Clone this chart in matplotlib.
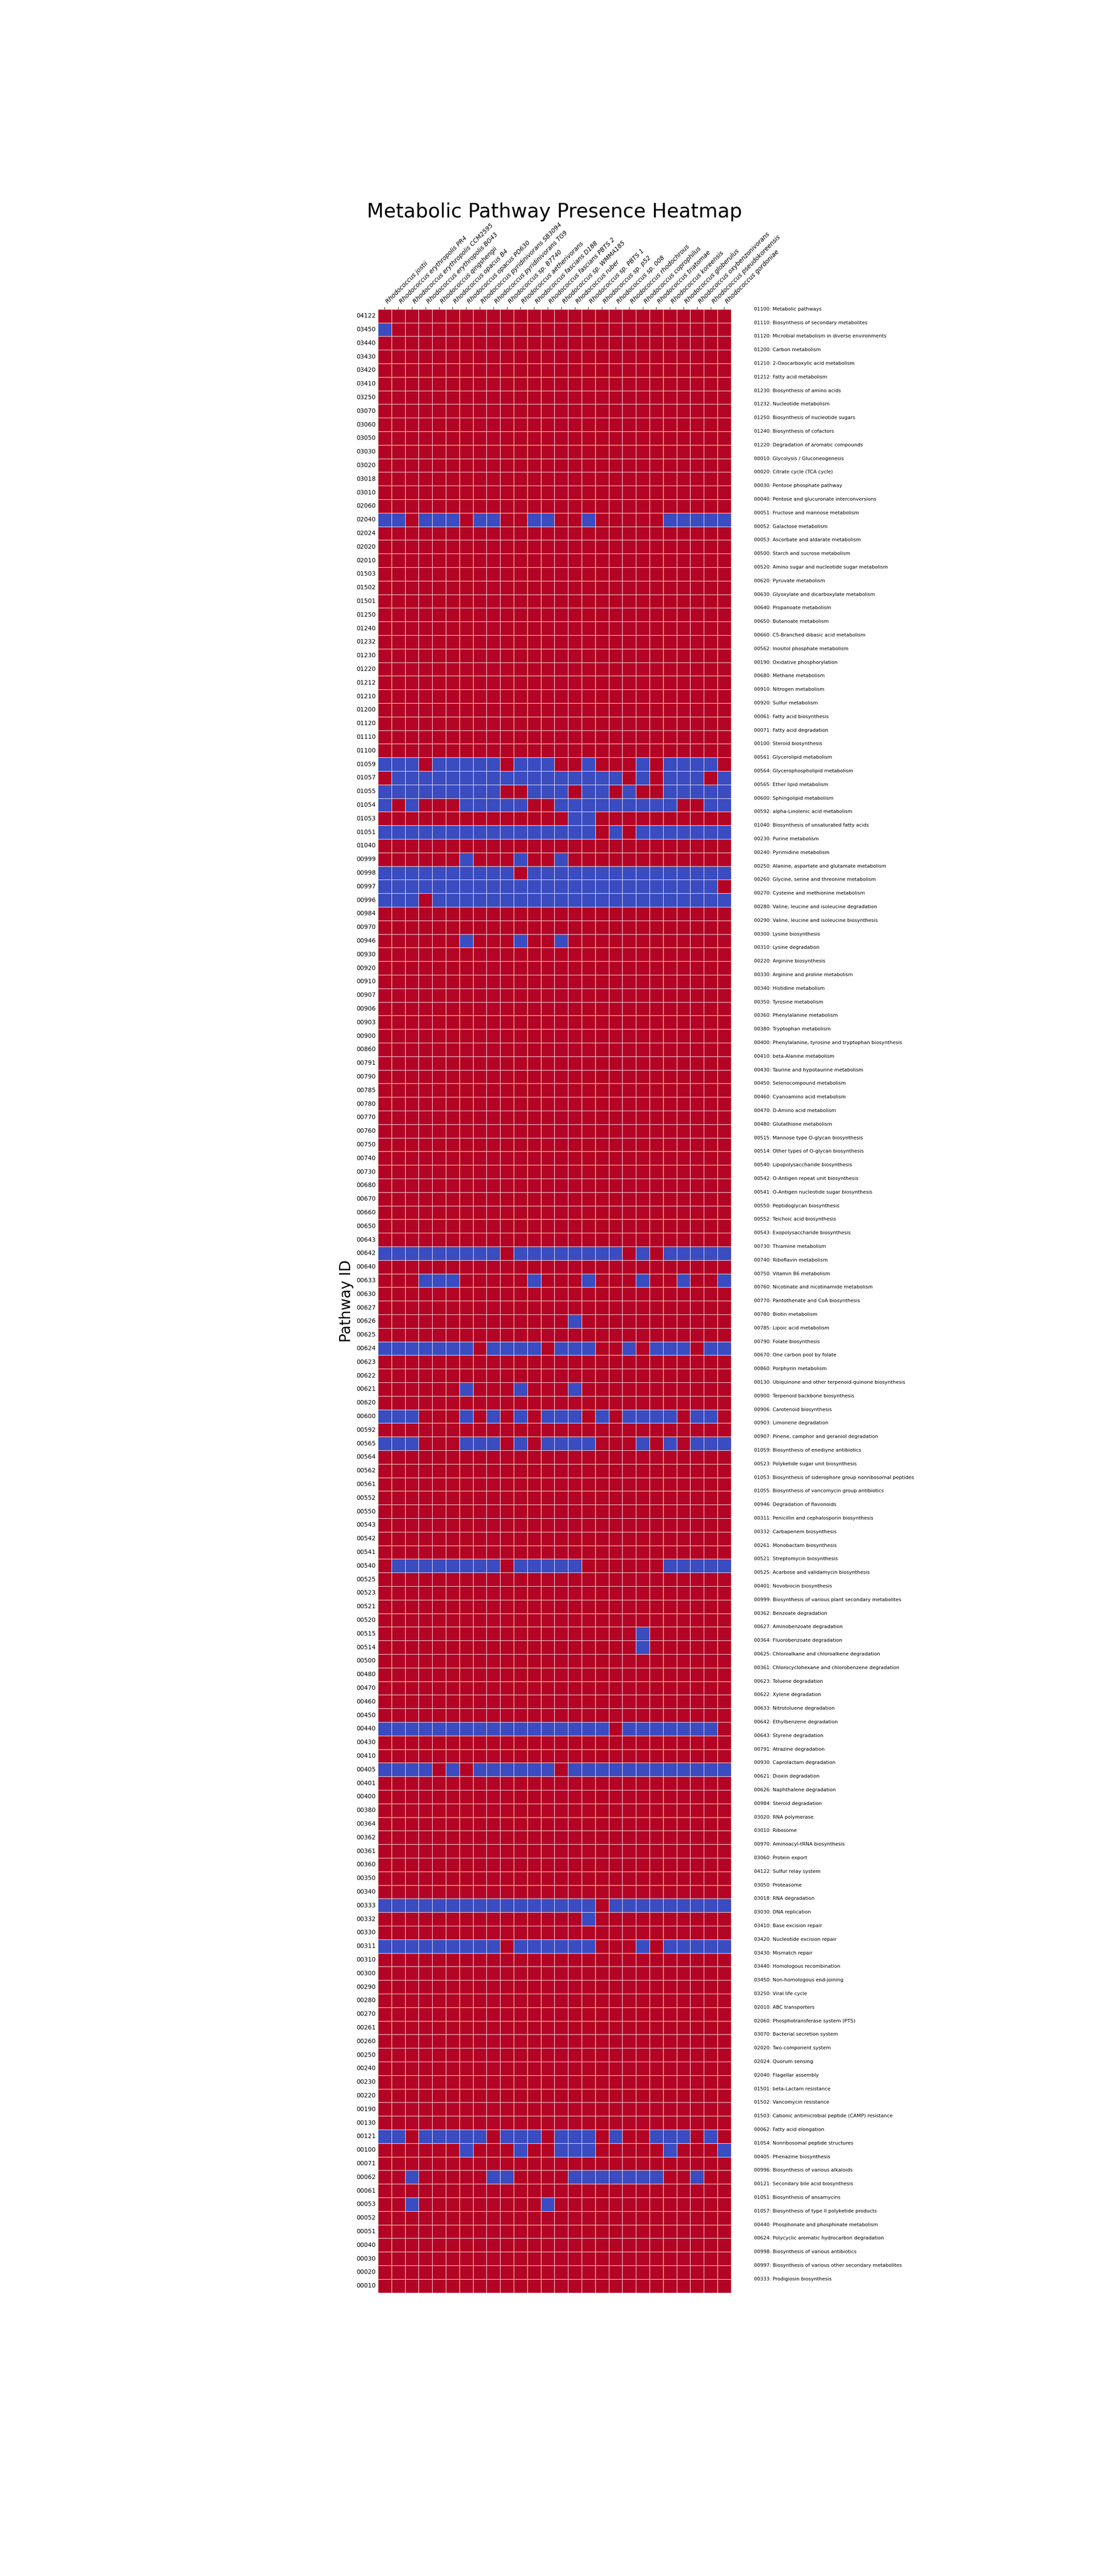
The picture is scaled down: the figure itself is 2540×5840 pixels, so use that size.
import matplotlib
matplotlib.use('Agg')
import matplotlib.pyplot as plt
import numpy as np
import pandas as pd
import seaborn as sns

# Organisms (columns)
organisms = [
    'Rhodococcus jostii', 'Rhodococcus erythropolis PR4',
    'Rhodococcus erythropolis CCM2595', 'Rhodococcus erythropolis BG43',
    'Rhodococcus qingshengii', 'Rhodococcus opacus B4',
    'Rhodococcus opacus PD630', 'Rhodococcus pyridinivorans SB3094',
    'Rhodococcus pyridinivorans TG9', 'Rhodococcus sp. B7740',
    'Rhodococcus aetherivorans', 'Rhodococcus fascians D188',
    'Rhodococcus fascians PBTS 2', 'Rhodococcus sp. WMMA185',
    'Rhodococcus ruber', 'Rhodococcus sp. PBTS 1', 'Rhodococcus sp. p52',
    'Rhodococcus sp. 008', 'Rhodococcus rhodochrous',
    'Rhodococcus coprophilus', 'Rhodococcus triatomae',
    'Rhodococcus koreensis', 'Rhodococcus globerulus',
    'Rhodococcus oxybenzonivorans', 'Rhodococcus pseudokoreensis',
    'Rhodococcus gordoniae']

# Pathway IDs (rows, top to bottom)
pathway_ids = [
    '04122', '03450', '03440', '03430', '03420', '03410', '03250', '03070',
    '03060', '03050', '03030', '03020', '03018', '03010', '02060', '02040',
    '02024', '02020', '02010', '01503', '01502', '01501', '01250', '01240',
    '01232', '01230', '01220', '01212', '01210', '01200', '01120', '01110',
    '01100', '01059', '01057', '01055', '01054', '01053', '01051', '01040',
    '00999', '00998', '00997', '00996', '00984', '00970', '00946', '00930',
    '00920', '00910', '00907', '00906', '00903', '00900', '00860', '00791',
    '00790', '00785', '00780', '00770', '00760', '00750', '00740', '00730',
    '00680', '00670', '00660', '00650', '00643', '00642', '00640', '00633',
    '00630', '00627', '00626', '00625', '00624', '00623', '00622', '00621',
    '00620', '00600', '00592', '00565', '00564', '00562', '00561', '00552',
    '00550', '00543', '00542', '00541', '00540', '00525', '00523', '00521',
    '00520', '00515', '00514', '00500', '00480', '00470', '00460', '00450',
    '00440', '00430', '00410', '00405', '00401', '00400', '00380', '00364',
    '00362', '00361', '00360', '00350', '00340', '00333', '00332', '00330',
    '00311', '00310', '00300', '00290', '00280', '00270', '00261', '00260',
    '00250', '00240', '00230', '00220', '00190', '00130', '00121', '00100',
    '00071', '00062', '00061', '00053', '00052', '00051', '00040', '00030',
    '00020', '00010']

# Presence (1) / absence (0), one string per pathway, one char per organism
presence = [
    '11111111111111111111111111',  # 04122
    '01111111111111111111111111',  # 03450
    '11111111111111111111111111',  # 03440
    '11111111111111111111111111',  # 03430
    '11111111111111111111111111',  # 03420
    '11111111111111111111111111',  # 03410
    '11111111111111111111111111',  # 03250
    '11111111111111111111111111',  # 03070
    '11111111111111111111111111',  # 03060
    '11111111111111111111111111',  # 03050
    '11111111111111111111111111',  # 03030
    '11111111111111111111111111',  # 03020
    '11111111111111111111111111',  # 03018
    '11111111111111111111111111',  # 03010
    '11111111111111111111111111',  # 02060
    '00100010011001101111100000',  # 02040
    '11111111111111111111111111',  # 02024
    '11111111111111111111111111',  # 02020
    '11111111111111111111111111',  # 02010
    '11111111111111111111111111',  # 01503
    '11111111111111111111111111',  # 01502
    '11111111111111111111111111',  # 01501
    '11111111111111111111111111',  # 01250
    '11111111111111111111111111',  # 01240
    '11111111111111111111111111',  # 01232
    '11111111111111111111111111',  # 01230
    '11111111111111111111111111',  # 01220
    '11111111111111111111111111',  # 01212
    '11111111111111111111111111',  # 01210
    '11111111111111111111111111',  # 01200
    '11111111111111111111111111',  # 01120
    '11111111111111111111111111',  # 01110
    '11111111111111111111111111',  # 01100
    '00010000010001101110100001',  # 01059
    '10000000000000000010100010',  # 01057
    '00000000011000100101100000',  # 01055
    '01011100000110000000001100',  # 01054
    '11111111111111001111111111',  # 01053
    '00000000000000001010000000',  # 01051
    '11111111111111111111111111',  # 01040
    '11111101110110111111111111',  # 00999
    '00000000001000000000000000',  # 00998
    '00000000000000000000000001',  # 00997
    '00010000000000000000000000',  # 00996
    '11111111111111111111111111',  # 00984
    '11111111111111111111111111',  # 00970
    '11111101110110111111111111',  # 00946
    '11111111111111111111111111',  # 00930
    '11111111111111111111111111',  # 00920
    '11111111111111111111111111',  # 00910
    '11111111111111111111111111',  # 00907
    '11111111111111111111111111',  # 00906
    '11111111111111111111111111',  # 00903
    '11111111111111111111111111',  # 00900
    '11111111111111111111111111',  # 00860
    '11111111111111111111111111',  # 00791
    '11111111111111111111111111',  # 00790
    '11111111111111111111111111',  # 00785
    '11111111111111111111111111',  # 00780
    '11111111111111111111111111',  # 00770
    '11111111111111111111111111',  # 00760
    '11111111111111111111111111',  # 00750
    '11111111111111111111111111',  # 00740
    '11111111111111111111111111',  # 00730
    '11111111111111111111111111',  # 00680
    '11111111111111111111111111',  # 00670
    '11111111111111111111111111',  # 00660
    '11111111111111111111111111',  # 00650
    '11111111111111111111111111',  # 00643
    '00000000010000000010100000',  # 00642
    '11111111111111111111111111',  # 00640
    '11100011111011101110110110',  # 00633
    '11111111111111111111111111',  # 00630
    '11111111111111111111111111',  # 00627
    '11111111111111011111111111',  # 00626
    '11111111111111111111111111',  # 00625
    '00000001000010001101000100',  # 00624
    '11111111111111111111111111',  # 00623
    '11111111111111111111111111',  # 00622
    '11111101110111011111111111',  # 00621
    '11111111111111111111111111',  # 00620
    '00011101010100010100001001',  # 00600
    '11111111111111111111111111',  # 00592
    '00011100010100001110101000',  # 00565
    '11111111111111111111111111',  # 00564
    '11111111111111111111111111',  # 00562
    '11111111111111111111111111',  # 00561
    '11111111111111111111111111',  # 00552
    '11111111111111111111111111',  # 00550
    '11111111111111111111111111',  # 00543
    '11111111111111111111111111',  # 00542
    '11111111111111111111111111',  # 00541
    '10000000010000011111100000',  # 00540
    '11111111111111111111111111',  # 00525
    '11111111111111111111111111',  # 00523
    '11111111111111111111111111',  # 00521
    '11111111111111111111111111',  # 00520
    '11111111111111111110111111',  # 00515
    '11111111111111111110111111',  # 00514
    '11111111111111111111111111',  # 00500
    '11111111111111111111111111',  # 00480
    '11111111111111111111111111',  # 00470
    '11111111111111111111111111',  # 00460
    '11111111111111111111111111',  # 00450
    '00000000000000000100000001',  # 00440
    '11111111111111111111111111',  # 00430
    '11111111111111111111111111',  # 00410
    '00001010000001000000000000',  # 00405
    '11111111111111111111111111',  # 00401
    '11111111111111111111111111',  # 00400
    '11111111111111111111111111',  # 00380
    '11111111111111111111111111',  # 00364
    '11111111111111111111111111',  # 00362
    '11111111111111111111111111',  # 00361
    '11111111111111111111111111',  # 00360
    '11111111111111111111111111',  # 00350
    '11111111111111111111111111',  # 00340
    '00000000000000001000000000',  # 00333
    '11111111111111101111111111',  # 00332
    '11111111111111111111111111',  # 00330
    '00000000010000001110100000',  # 00311
    '11111111111111111111111111',  # 00310
    '11111111111111111111111111',  # 00300
    '11111111111111111111111111',  # 00290
    '11111111111111111111111111',  # 00280
    '11111111111111111111111111',  # 00270
    '11111111111111111111111111',  # 00261
    '11111111111111111111111111',  # 00260
    '11111111111111111111111111',  # 00250
    '11111111111111111111111111',  # 00240
    '11111111111111111111111111',  # 00230
    '11111111111111111111111111',  # 00220
    '11111111111111111111111111',  # 00190
    '11111111111111111111111111',  # 00130
    '00100000100010001011000101',  # 00121
    '11111101110110001111101110',  # 00100
    '11111111111111111111111111',  # 00071
    '11011111001111000000011011',  # 00062
    '11111111111111111111111111',  # 00061
    '11011111111101111111111111',  # 00053
    '11111111111111111111111111',  # 00052
    '11111111111111111111111111',  # 00051
    '11111111111111111111111111',  # 00040
    '11111111111111111111111111',  # 00030
    '11111111111111111111111111',  # 00020
    '11111111111111111111111111',  # 00010
]

# Pathway descriptions listed to the right of the heatmap
pathway_names = [
    '01100: Metabolic pathways',
    '01110: Biosynthesis of secondary metabolites',
    '01120: Microbial metabolism in diverse environments',
    '01200: Carbon metabolism',
    '01210: 2-Oxocarboxylic acid metabolism',
    '01212: Fatty acid metabolism',
    '01230: Biosynthesis of amino acids',
    '01232: Nucleotide metabolism',
    '01250: Biosynthesis of nucleotide sugars',
    '01240: Biosynthesis of cofactors',
    '01220: Degradation of aromatic compounds',
    '00010: Glycolysis / Gluconeogenesis',
    '00020: Citrate cycle (TCA cycle)',
    '00030: Pentose phosphate pathway',
    '00040: Pentose and glucuronate interconversions',
    '00051: Fructose and mannose metabolism',
    '00052: Galactose metabolism',
    '00053: Ascorbate and aldarate metabolism',
    '00500: Starch and sucrose metabolism',
    '00520: Amino sugar and nucleotide sugar metabolism',
    '00620: Pyruvate metabolism',
    '00630: Glyoxylate and dicarboxylate metabolism',
    '00640: Propanoate metabolism',
    '00650: Butanoate metabolism',
    '00660: C5-Branched dibasic acid metabolism',
    '00562: Inositol phosphate metabolism',
    '00190: Oxidative phosphorylation',
    '00680: Methane metabolism',
    '00910: Nitrogen metabolism',
    '00920: Sulfur metabolism',
    '00061: Fatty acid biosynthesis',
    '00071: Fatty acid degradation',
    '00100: Steroid biosynthesis',
    '00561: Glycerolipid metabolism',
    '00564: Glycerophospholipid metabolism',
    '00565: Ether lipid metabolism',
    '00600: Sphingolipid metabolism',
    '00592: alpha-Linolenic acid metabolism',
    '01040: Biosynthesis of unsaturated fatty acids',
    '00230: Purine metabolism',
    '00240: Pyrimidine metabolism',
    '00250: Alanine, aspartate and glutamate metabolism',
    '00260: Glycine, serine and threonine metabolism',
    '00270: Cysteine and methionine metabolism',
    '00280: Valine, leucine and isoleucine degradation',
    '00290: Valine, leucine and isoleucine biosynthesis',
    '00300: Lysine biosynthesis',
    '00310: Lysine degradation',
    '00220: Arginine biosynthesis',
    '00330: Arginine and proline metabolism',
    '00340: Histidine metabolism',
    '00350: Tyrosine metabolism',
    '00360: Phenylalanine metabolism',
    '00380: Tryptophan metabolism',
    '00400: Phenylalanine, tyrosine and tryptophan biosynthesis',
    '00410: beta-Alanine metabolism',
    '00430: Taurine and hypotaurine metabolism',
    '00450: Selenocompound metabolism',
    '00460: Cyanoamino acid metabolism',
    '00470: D-Amino acid metabolism',
    '00480: Glutathione metabolism',
    '00515: Mannose type O-glycan biosynthesis',
    '00514: Other types of O-glycan biosynthesis',
    '00540: Lipopolysaccharide biosynthesis',
    '00542: O-Antigen repeat unit biosynthesis',
    '00541: O-Antigen nucleotide sugar biosynthesis',
    '00550: Peptidoglycan biosynthesis',
    '00552: Teichoic acid biosynthesis',
    '00543: Exopolysaccharide biosynthesis',
    '00730: Thiamine metabolism',
    '00740: Riboflavin metabolism',
    '00750: Vitamin B6 metabolism',
    '00760: Nicotinate and nicotinamide metabolism',
    '00770: Pantothenate and CoA biosynthesis',
    '00780: Biotin metabolism',
    '00785: Lipoic acid metabolism',
    '00790: Folate biosynthesis',
    '00670: One carbon pool by folate',
    '00860: Porphyrin metabolism',
    '00130: Ubiquinone and other terpenoid-quinone biosynthesis',
    '00900: Terpenoid backbone biosynthesis',
    '00906: Carotenoid biosynthesis',
    '00903: Limonene degradation',
    '00907: Pinene, camphor and geraniol degradation',
    '01059: Biosynthesis of enediyne antibiotics',
    '00523: Polyketide sugar unit biosynthesis',
    '01053: Biosynthesis of siderophore group nonribosomal peptides',
    '01055: Biosynthesis of vancomycin group antibiotics',
    '00946: Degradation of flavonoids',
    '00311: Penicillin and cephalosporin biosynthesis',
    '00332: Carbapenem biosynthesis',
    '00261: Monobactam biosynthesis',
    '00521: Streptomycin biosynthesis',
    '00525: Acarbose and validamycin biosynthesis',
    '00401: Novobiocin biosynthesis',
    '00999: Biosynthesis of various plant secondary metabolites',
    '00362: Benzoate degradation',
    '00627: Aminobenzoate degradation',
    '00364: Fluorobenzoate degradation',
    '00625: Chloroalkane and chloroalkene degradation',
    '00361: Chlorocyclohexane and chlorobenzene degradation',
    '00623: Toluene degradation',
    '00622: Xylene degradation',
    '00633: Nitrotoluene degradation',
    '00642: Ethylbenzene degradation',
    '00643: Styrene degradation',
    '00791: Atrazine degradation',
    '00930: Caprolactam degradation',
    '00621: Dioxin degradation',
    '00626: Naphthalene degradation',
    '00984: Steroid degradation',
    '03020: RNA polymerase',
    '03010: Ribosome',
    '00970: Aminoacyl-tRNA biosynthesis',
    '03060: Protein export',
    '04122: Sulfur relay system',
    '03050: Proteasome',
    '03018: RNA degradation',
    '03030: DNA replication',
    '03410: Base excision repair',
    '03420: Nucleotide excision repair',
    '03430: Mismatch repair',
    '03440: Homologous recombination',
    '03450: Non-homologous end-joining',
    '03250: Viral life cycle',
    '02010: ABC transporters',
    '02060: Phosphotransferase system (PTS)',
    '03070: Bacterial secretion system',
    '02020: Two-component system',
    '02024: Quorum sensing',
    '02040: Flagellar assembly',
    '01501: beta-Lactam resistance',
    '01502: Vancomycin resistance',
    '01503: Cationic antimicrobial peptide (CAMP) resistance',
    '00062: Fatty acid elongation',
    '01054: Nonribosomal peptide structures',
    '00405: Phenazine biosynthesis',
    '00996: Biosynthesis of various alkaloids',
    '00121: Secondary bile acid biosynthesis',
    '01051: Biosynthesis of ansamycins',
    '01057: Biosynthesis of type II polyketide products',
    '00440: Phosphonate and phosphinate metabolism',
    '00624: Polycyclic aromatic hydrocarbon degradation',
    '00998: Biosynthesis of various antibiotics',
    '00997: Biosynthesis of various other secondary metabolites',
    '00333: Prodigiosin biosynthesis',
]

# Build the presence table
mat = np.array([[int(c) for c in row] for row in presence])
df = pd.DataFrame(mat, index=pathway_ids, columns=organisms)

fig = plt.figure(figsize=(25.4, 58.4), dpi=100)
ax = fig.add_axes([0.3374, 0.11, 0.3153, 0.77])

sns.heatmap(df, cmap='coolwarm', cbar=False, linewidths=0.5,
            linecolor='white', square=True, ax=ax,
            xticklabels=True, yticklabels=True)

# Organism names on top, slanted
ax.xaxis.tick_top()
plt.setp(ax.get_xticklabels(), rotation=45, ha='left',
         fontstyle='italic', fontsize=10)
plt.setp(ax.get_yticklabels(), rotation=0, fontsize=10)
ax.tick_params(axis='y', length=0)

ax.set_xlabel('')
ax.set_ylabel('Pathway ID', fontsize=24)
ax.set_title('Metabolic Pathway Presence Heatmap', fontsize=32)

# Pathway descriptions to the right
for i, name in enumerate(pathway_names):
    ax.text(27.7, i, name, fontsize=8, va='center', ha='left')

fig.savefig('out.png', dpi=100)
